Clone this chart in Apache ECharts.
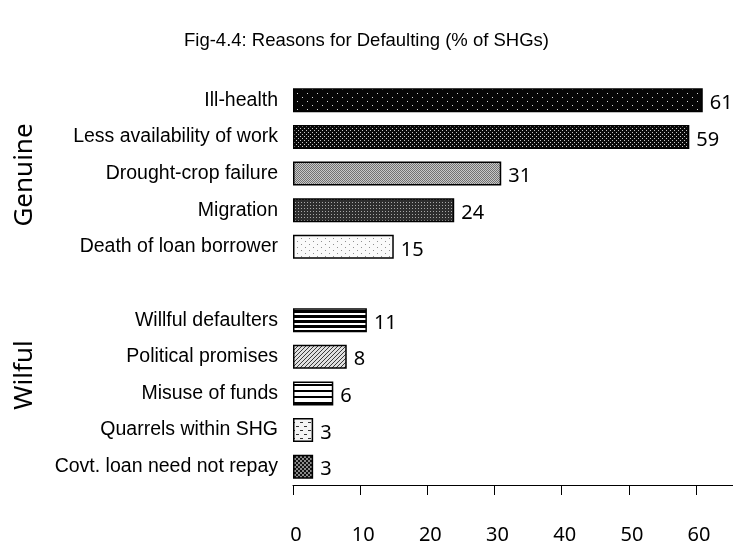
<!DOCTYPE html>
<html>
<head>
<meta charset="utf-8">
<script src="https://cdn.jsdelivr.net/npm/echarts@6/dist/echarts.min.js"></script>
<style>
  html, body { margin: 0; padding: 0; background: #fff; }
  #chart { width: 733px; height: 547px; }
</style>
</head>
<body>
<div id="chart"></div>
<script>
// Reasons for defaulting, % of SHGs. An empty category separates the two groups.
const categories = [
  'Ill-health', 'Less availability of work', 'Drought-crop failure', 'Migration', 'Death of loan borrower',
  '',
  'Willful defaulters', 'Political promises', 'Misuse of funds', 'Quarrels within SHG', 'Covt. loan need not repay'
];
const values = [61, 59, 31, 24, 15, null, 11, 8, 6, 3, 3];
const groupNames = ['Genuine', 'Wilful'];
const xTicks = [0, 10, 20, 30, 40, 50, 60];
const titleText = 'Fig-4.4: Reasons for Defaulting (% of SHGs)';

const FONT = '"Liberation Sans", Arial, sans-serif';
const NUM_FONT = '"Noto Sans", "Open Sans", sans-serif';

// Small canvas tiles used as fill patterns for each bar.
function tile(w, h, draw) {
  const c = document.createElement('canvas');
  c.width = w; c.height = h;
  const g = c.getContext('2d');
  draw(g, w, h);
  return { image: c, repeat: 'repeat' };
}
const patterns = [
  tile(10, 8, (g) => { g.fillStyle = '#050505'; g.fillRect(0, 0, 10, 8);
    g.fillStyle = '#d8d8d8'; g.fillRect(2, 1, 1, 1); g.fillRect(7, 5, 1, 1); }),
  tile(4, 4, (g) => { g.fillStyle = '#0a0a0a'; g.fillRect(0, 0, 4, 4);
    g.fillStyle = '#c8c8c8'; g.fillRect(0, 0, 1, 1); g.fillRect(2, 2, 1, 1); }),
  tile(2, 2, (g) => { g.fillStyle = '#c8c8c8'; g.fillRect(0, 0, 2, 2);
    g.fillStyle = '#727272'; g.fillRect(0, 0, 1, 1); g.fillRect(1, 1, 1, 1); }),
  tile(3, 3, (g) => { g.fillStyle = '#2e2e2e'; g.fillRect(0, 0, 3, 3);
    g.fillStyle = '#a8a8a8'; g.fillRect(1, 1, 1, 1); }),
  tile(8, 6, (g) => { g.fillStyle = '#fafafa'; g.fillRect(0, 0, 8, 6);
    g.fillStyle = '#909090'; g.fillRect(1, 1, 1, 1); g.fillRect(5, 4, 1, 1); }),
  null,
  tile(1, 5, (g) => { g.fillStyle = '#ffffff'; g.fillRect(0, 0, 1, 5);
    g.fillStyle = '#000000'; g.fillRect(0, 0, 1, 3); }),
  tile(4, 4, (g) => { g.fillStyle = '#e0e0e0'; g.fillRect(0, 0, 4, 4);
    g.strokeStyle = '#3a3a3a'; g.lineWidth = 1;
    g.beginPath(); g.moveTo(-1, 5); g.lineTo(5, -1); g.stroke(); }),
  tile(1, 6, (g) => { g.fillStyle = '#ffffff'; g.fillRect(0, 0, 1, 6);
    g.fillStyle = '#000000'; g.fillRect(0, 0, 1, 2); }),
  tile(8, 8, (g) => { g.fillStyle = '#f4f4f4'; g.fillRect(0, 0, 8, 8);
    g.fillStyle = '#333'; g.fillRect(0, 2, 3, 1); g.fillRect(4, 6, 3, 1); }),
  tile(4, 4, (g) => { g.fillStyle = '#111'; g.fillRect(0, 0, 4, 4);
    g.fillStyle = '#8a8a8a'; g.fillRect(0, 0, 2, 2); g.fillRect(2, 2, 2, 2); })
];

const barData = values.map((v, i) => ({
  value: v,
  itemStyle: patterns[i] ? { color: patterns[i] } : undefined
}));

const chart = echarts.init(document.getElementById('chart'), null, { renderer: 'canvas' });
chart.setOption({
  animation: false,
  backgroundColor: '#ffffff',
  title: {
    text: titleText,
    left: 'center',
    top: 26,
    textStyle: { fontFamily: FONT, fontSize: 18.5, fontWeight: 'normal', color: '#000' }
  },
  grid: { left: 293, right: 0, top: 82, bottom: 62, containLabel: false },
  xAxis: {
    type: 'value',
    min: 0,
    max: 65.5,
    interval: 10,
    splitLine: { show: false },
    axisLine: { show: true, lineStyle: { color: '#000', width: 1 } },
    axisTick: { show: true, length: 10, lineStyle: { color: '#000' }, customValues: xTicks },
    axisLabel: {
      customValues: xTicks,
      margin: 40,
      padding: [0, 0, 0, 6],
      color: '#000',
      fontFamily: NUM_FONT,
      fontSize: 20
    }
  },
  yAxis: {
    type: 'category',
    data: categories,
    inverse: true,
    axisLine: { show: false },
    axisTick: { show: false },
    axisLabel: { margin: 15, color: '#000', fontFamily: FONT, fontSize: 19.5 }
  },
  series: [{
    type: 'bar',
    data: barData,
    barWidth: 24,
    itemStyle: { borderColor: '#000', borderWidth: 1.5 },
    label: {
      show: true,
      position: 'right',
      distance: 7,
      offset: [0, 3],
      color: '#000',
      fontFamily: NUM_FONT,
      fontSize: 20
    }
  }],
  graphic: [
    {
      type: 'text', x: 25, y: 175, rotation: Math.PI / 2,
      style: { text: groupNames[0], fontFamily: '"Noto Sans", sans-serif', fontSize: 26,
        fill: '#000', align: 'center', verticalAlign: 'middle' }
    },
    {
      type: 'text', x: 25, y: 375, rotation: Math.PI / 2,
      style: { text: groupNames[1], fontFamily: '"Noto Sans", sans-serif', fontSize: 26,
        fill: '#000', align: 'center', verticalAlign: 'middle' }
    }
  ]
});
</script>
</body>
</html>
